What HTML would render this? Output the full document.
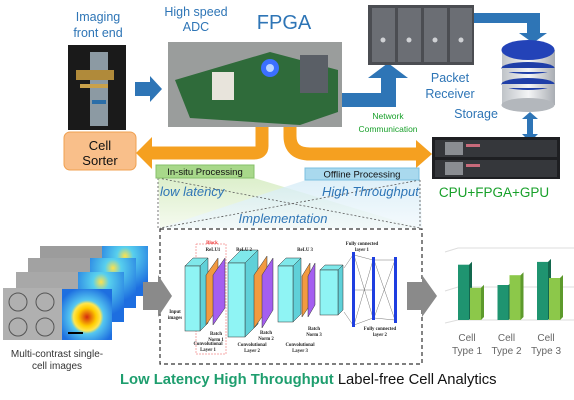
<!DOCTYPE html>
<html><head><meta charset="utf-8"><style>
body{margin:0;background:#fff}
svg{display:block;font-family:"Liberation Sans",sans-serif}
</style></head><body>
<svg width="574" height="400" viewBox="0 0 574 400">
<defs>
<linearGradient id="gG" x1="0" y1="0" x2="0" y2="1"><stop offset="0" stop-color="#dcefcb"/><stop offset="1" stop-color="#f5faef"/></linearGradient>
<linearGradient id="gB" x1="0" y1="0" x2="0" y2="1"><stop offset="0" stop-color="#d3ebf6"/><stop offset="1" stop-color="#f1f8fc"/></linearGradient>
<radialGradient id="heat" cx="0.5" cy="0.55" r="0.6"><stop offset="0" stop-color="#d42a10"/><stop offset="0.3" stop-color="#ffcc00"/><stop offset="0.45" stop-color="#ffe650"/><stop offset="0.55" stop-color="#56c8f0"/><stop offset="1" stop-color="#1e6fe0"/></radialGradient>
<radialGradient id="heatB" cx="0.5" cy="0.2" r="0.7"><stop offset="0" stop-color="#ffe24a"/><stop offset="0.25" stop-color="#58d0ee"/><stop offset="1" stop-color="#1d6ee0"/></radialGradient>
<linearGradient id="db" x1="0" y1="0" x2="1" y2="0"><stop offset="0" stop-color="#bfc3c8"/><stop offset="0.5" stop-color="#f4f5f6"/><stop offset="1" stop-color="#a9adb3"/></linearGradient>
</defs>

<g fill="#2e75b6" font-size="12.5" text-anchor="middle">
<text x="98" y="21"><tspan x="98">Imaging</tspan><tspan x="98" dy="16">front end</tspan></text>
<text x="196" y="16"><tspan x="196">High speed</tspan><tspan x="196" dy="15">ADC</tspan></text>
<text x="284" y="29" font-size="20">FPGA</text>
<text x="450" y="82"><tspan x="450">Packet</tspan><tspan x="450" dy="16">Receiver</tspan></text>
<text x="476" y="118">Storage</text>
</g>

<g>
<rect x="68" y="45" width="58" height="85" fill="#1a1a1a"/>
<rect x="90" y="52" width="18" height="74" fill="#8c9aa3"/>
<rect x="76" y="70" width="38" height="10" fill="#b08a3a"/>
<rect x="80" y="84" width="28" height="4" fill="#c9a14a"/>
<rect x="92" y="100" width="14" height="4" fill="#2b6ea8"/>
</g>
<polygon points="135,82 150,82 150,76 162,89 150,102 150,96 135,96" fill="#2e75b6"/>

<g>
<rect x="168" y="42" width="174" height="85" fill="#9a9d9c"/>
<polygon points="175,80 270,52 338,70 338,112 300,125 190,118" fill="#2f6b3a"/>
<rect x="212" y="72" width="22" height="28" fill="#e8e4dc"/>
<circle cx="270" cy="68" r="9" fill="#3b6fff"/>
<circle cx="270" cy="68" r="4" fill="#b9d3ff"/>
<rect x="300" y="55" width="28" height="38" fill="#5a5f66"/>
</g>

<polygon points="342,93 381,93 381,78 368,78 388,63 408,78 396,78 396,107 342,107" fill="#2e75b6"/>
<text x="388" y="119" font-size="8.5" fill="#18a02a" text-anchor="middle"><tspan x="388">Network</tspan><tspan x="388" dy="13">Communication</tspan></text>

<g>
<rect x="368" y="5" width="106" height="60" fill="#4b4d52"/>
<g fill="#6b6e74"><rect x="372" y="8" width="23" height="54"/><rect x="398" y="8" width="23" height="54"/><rect x="424" y="8" width="23" height="54"/><rect x="450" y="8" width="22" height="54"/></g>
<g fill="#cfd1d4"><circle cx="383" cy="40" r="2.5"/><circle cx="409" cy="40" r="2.5"/><circle cx="435" cy="40" r="2.5"/><circle cx="461" cy="40" r="2.5"/></g>
</g>
<polygon points="474,13 540,13 540,33 547,33 533,43 519,33 527,33 527,23 474,23" fill="#2e75b6"/>

<g>
<rect x="502" y="50" width="53" height="55" fill="url(#db)"/>
<ellipse cx="528" cy="105" rx="26.5" ry="7" fill="#b3b7bc"/>
<ellipse cx="528" cy="84" rx="26.5" ry="6" fill="#1f3fa8"/>
<rect x="502" y="84" width="53" height="4" fill="url(#db)"/>
<ellipse cx="528" cy="68" rx="26.5" ry="6" fill="#1f3fa8"/>
<rect x="502" y="68" width="53" height="4" fill="url(#db)"/>
<ellipse cx="528" cy="50" rx="26.5" ry="10" fill="#2343b8"/>
</g>
<polygon points="530,112 522,119 527,119 527,134 522,134 530,142 538,134 533,134 533,119 538,119" fill="#2e75b6"/>

<g>
<rect x="432" y="137" width="128" height="42" fill="#1e1f22"/>
<rect x="435" y="140" width="122" height="17" fill="#35373b"/>
<rect x="435" y="160" width="122" height="17" fill="#35373b"/>
<rect x="445" y="142" width="18" height="13" fill="#8a8d92"/><rect x="445" y="162" width="18" height="13" fill="#8a8d92"/>
<rect x="466" y="144" width="14" height="3" fill="#c86a7a"/><rect x="466" y="164" width="14" height="3" fill="#c86a7a"/>
</g>
<text x="494" y="197" font-size="13.5" fill="#18a02a" text-anchor="middle">CPU+FPGA+GPU</text>

<path d="M262,127 V146 Q262,153 254,153 H150" fill="none" stroke="#f5a020" stroke-width="13"/>
<polygon points="152,137 136,153 152,169" fill="#f5a020"/>
<path d="M290,127 V136 Q290,154 310,154 H418" fill="none" stroke="#f5a020" stroke-width="13"/>
<polygon points="416,140 432,154 416,168" fill="#f5a020"/>

<rect x="64" y="132" width="72" height="38" rx="6" fill="#f9bf8a" stroke="#f0a050"/>
<text x="100" y="150" font-size="13" text-anchor="middle" fill="#111"><tspan x="100">Cell</tspan><tspan x="100" dy="15">Sorter</tspan></text>

<polygon points="158,178 254,178 420,228 160,228" fill="url(#gG)"/>
<polygon points="306,180 420,180 422,228 160,228" fill="url(#gB)" opacity="0.75"/>
<path d="M158,178 L420,228 M420,180 L160,228 M158,178 V228 M420,180 V228" stroke="#555" stroke-dasharray="2,2" fill="none" stroke-width="0.8"/>
<rect x="156" y="165" width="98" height="13" fill="#a8d88a" stroke="#86c06a"/>
<text x="205" y="175" font-size="9.5" text-anchor="middle" fill="#111">In-situ Processing</text>
<rect x="305" y="168" width="114" height="12" fill="#a9d9ee" stroke="#7cc0e0"/>
<text x="362" y="177.5" font-size="9.5" text-anchor="middle" fill="#111">Offline Processing</text>
<text x="160" y="196" font-size="13" font-style="italic" fill="#2e75b6">low latency</text>
<text x="322" y="196" font-size="13" font-style="italic" fill="#2e75b6">High Throughput</text>
<text x="283" y="223" font-size="13" font-style="italic" fill="#2e75b6" text-anchor="middle">Implementation</text>

<rect x="160" y="229" width="262" height="135" fill="none" stroke="#333" stroke-dasharray="4,3" stroke-width="1.2"/>
<g stroke="#333" stroke-width="0.5">
<rect x="196" y="244" width="30" height="110" fill="none" stroke="#e55" stroke-dasharray="2,1"/>
<polygon points="185,266 193,258 208,258 200,266" fill="#7fe8ea"/><polygon points="200,266 208,258 208,323 200,331" fill="#5fd0d8"/><rect x="185" y="266" width="15" height="65" fill="#8ff4f4"/>
<polygon points="206,275 218,258 218,308 206,325" fill="#f29a40"/>
<polygon points="213,275 225,258 225,308 213,325" fill="#a45ef0"/>
<polygon points="228,263 241,250 258,250 245,263" fill="#7fe8ea"/><polygon points="245,263 258,250 258,324 245,337" fill="#5fd0d8"/><rect x="228" y="263" width="17" height="74" fill="#8ff4f4"/>
<polygon points="254,275 267,256 267,310 254,328" fill="#f29a40"/>
<polygon points="262,275 273,258 273,310 262,328" fill="#a45ef0"/>
<polygon points="278,266 286,258 301,258 293,266" fill="#7fe8ea"/><polygon points="293,266 301,258 301,314 293,322" fill="#5fd0d8"/><rect x="278" y="266" width="15" height="56" fill="#8ff4f4"/>
<polygon points="302,276 310,263 310,305 302,317" fill="#f29a40"/>
<polygon points="308,276 315,263 315,305 308,317" fill="#a45ef0"/>
<polygon points="320,270 325,265 343,265 338,270" fill="#7fe8ea"/><polygon points="338,270 343,265 343,310 338,315" fill="#5fd0d8"/><rect x="320" y="270" width="18" height="45" fill="#8ff4f4"/>
<g stroke="#555" stroke-width="0.4"><path d="M354,255 L373,260 M354,255 L373,318 M354,325 L373,260 M354,325 L373,318 M354,290 L373,290 M374,260 L395,260 M374,260 L395,320 M374,318 L395,260 M374,318 L395,320 M344,268 L353,255 M344,312 L353,325"/></g>
<rect x="352" y="252" width="3" height="75" fill="#1e3ee0" stroke="none"/>
<rect x="372" y="257" width="3" height="63" fill="#1e3ee0" stroke="none"/>
<rect x="394" y="257" width="3" height="66" fill="#1e3ee0" stroke="none"/>
</g>
<g font-family="Liberation Serif,serif" font-size="4.8" font-weight="bold" fill="#222" text-anchor="middle">
<text x="212" y="244" fill="#e33">Block</text><text x="213" y="251">ReLU1</text><text x="244" y="251">ReLU 2</text><text x="305" y="251">ReLU 3</text>
<text x="362" y="245">Fully connected</text><text x="362" y="251">layer 1</text>
<text x="175" y="313">Input</text><text x="175" y="319">images</text>
<text x="208" y="345">Convolutional</text><text x="208" y="351">Layer 1</text>
<text x="252" y="346">Convolutional</text><text x="252" y="352">Layer 2</text>
<text x="300" y="346">Convolutional</text><text x="300" y="352">Layer 3</text>
<text x="216" y="335">Batch</text><text x="216" y="341">Norm 1</text>
<text x="266" y="334">Batch</text><text x="266" y="340">Norm 2</text>
<text x="314" y="330">Batch</text><text x="314" y="336">Norm 3</text>
<text x="380" y="330">Fully connected</text><text x="380" y="336">layer 2</text>
</g>

<g>
<rect x="40" y="246" width="62" height="50" fill="#9c9c9c"/><rect x="102" y="246" width="46" height="50" fill="url(#heatB)"/>
<rect x="28" y="258" width="62" height="50" fill="#a2a2a2"/><rect x="90" y="258" width="46" height="50" fill="url(#heatB)"/>
<rect x="16" y="272" width="62" height="50" fill="#a8a8a8"/><rect x="78" y="272" width="46" height="50" fill="url(#heatB)"/>
<rect x="3" y="288" width="59" height="52" fill="#b0b0b0"/><rect x="62" y="289" width="50" height="51" fill="url(#heat)"/>
<circle cx="18" cy="302" r="9" fill="none" stroke="#555"/><circle cx="45" cy="302" r="9" fill="none" stroke="#555"/>
<circle cx="18" cy="327" r="9" fill="none" stroke="#555"/><circle cx="45" cy="327" r="9" fill="none" stroke="#555"/>
<rect x="68" y="332" width="15" height="2" fill="#000"/>
</g>
<text x="57" y="357" font-size="10" fill="#333" text-anchor="middle"><tspan x="57">Multi-contrast single-</tspan><tspan x="57" dy="12">cell images</tspan></text>
<polygon points="143,282 158,282 158,275 172,296 158,317 158,310 143,310" fill="#8a8a8a"/>
<polygon points="407,282 422,282 422,275 437,296 422,317 422,310 407,310" fill="#8a8a8a"/>

<g id="bars">
<path d="M445,252 L458,248 H574 M445,291 L458,287 H574 M445,323 L458,320 H574" stroke="#ddd" fill="none"/>
</g>

<text x="120" y="384" font-size="14.8"><tspan fill="#1e9e6e" font-weight="bold">Low Latency High Throughput</tspan><tspan fill="#111"> Label-free Cell Analytics</tspan></text>
</svg>
<script>
const categories=["Cell Type 1","Cell Type 2","Cell Type 3"];
const seriesDark=[0.79,0.5,0.83];
const seriesLight=[0.46,0.64,0.6];
const NS="http://www.w3.org/2000/svg";
const base=320,H=70;
function y(v){return base-v*H;}
function x(i){return 458+i*39.5;}
const g=document.getElementById('bars');
function bar(xx,v,c1,c2,name){
  const r=document.createElementNS(NS,'rect');
  r.setAttribute('x',xx);r.setAttribute('y',y(v));r.setAttribute('width',11);r.setAttribute('height',base-y(v));r.setAttribute('fill',c1);
  
  
  g.appendChild(r);
  const s=document.createElementNS(NS,'polygon');
  s.setAttribute('points',`${xx+11},${y(v)} ${xx+14},${y(v)-3} ${xx+14},${base-3} ${xx+11},${base}`);
  s.setAttribute('fill',c2);
  g.appendChild(s);
}
categories.forEach((c,i)=>{
  bar(x(i),seriesDark[i],'#1f9470','#13684e','bar-dark-'+(i+1));
  bar(x(i)+12,seriesLight[i],'#8cc84a','#5d9a2c','bar-light-'+(i+1));
  const t=document.createElementNS(NS,'text');
  const cx=x(i)+9;
  t.setAttribute('x',cx);t.setAttribute('y',341);t.setAttribute('font-size','10');t.setAttribute('fill','#666');t.setAttribute('text-anchor','middle');
  
  
  const p=c.split(' ');
  t.innerHTML=`<tspan x="${cx}">${p[0]}</tspan><tspan x="${cx}" dy="13">${p[1]} ${p[2]}</tspan>`;
  g.appendChild(t);
});
</script>
</body></html>
